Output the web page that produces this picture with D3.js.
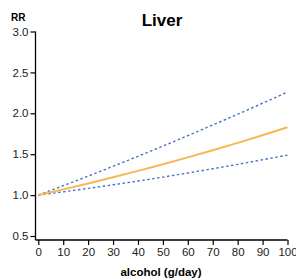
<!DOCTYPE html>
<html>
<head>
<meta charset="utf-8">
<script src="https://cdn.jsdelivr.net/npm/d3@7"></script>
<style>
  body { margin: 0; background: #fff; }
  svg { display: block; font-family: "Liberation Sans", Arial, sans-serif; }
</style>
</head>
<body>
<svg id="chart" width="296" height="280"></svg>
<script>
// alcohol dose (g/day) and relative risk estimates
const doses = [0, 10, 20, 30, 40, 50, 60, 70, 80, 90, 100];
const rrCentral = [1.0, 1.07, 1.143, 1.218, 1.296, 1.377, 1.461, 1.548, 1.638, 1.732, 1.83];
const rrUpper = [1.0, 1.115, 1.232, 1.352, 1.474, 1.599, 1.727, 1.857, 1.989, 2.123, 2.26];
const rrLower = [1.0, 1.04, 1.082, 1.126, 1.172, 1.22, 1.27, 1.322, 1.376, 1.432, 1.49];
const xTicks = [0, 10, 20, 30, 40, 50, 60, 70, 80, 90, 100];
const yTicks = [0.5, 1.0, 1.5, 2.0, 2.5, 3.0];

const svg = d3.select('#chart');

const x = d3.scaleLinear().domain([0, 100]).range([38.3, 287.5]);
const y = d3.scaleLinear().domain([0.5, 3.0]).range([236, 31.5]);

// axes (offset from each other, like the original)
const xAxis = svg.append('g')
    .attr('transform', 'translate(0,240)')
    .call(d3.axisBottom(x).tickValues(xTicks).tickSize(5).tickSizeOuter(0).tickPadding(3));
xAxis.select('.domain').attr('d', 'M35.5,0H' + x(100));

const yAxis = svg.append('g')
    .attr('transform', 'translate(35.5,0)')
    .call(d3.axisLeft(y).tickValues(yTicks).tickFormat(d3.format('.1f')).tickSize(5).tickSizeOuter(0).tickPadding(2));
yAxis.select('.domain').attr('d', 'M0,' + y(3.0) + 'V240');

svg.selectAll('.domain').attr('stroke', '#000').attr('stroke-width', 1.3);
svg.selectAll('.tick line').attr('stroke', '#000').attr('stroke-width', 1.2);
svg.selectAll('.tick text')
    .attr('fill', '#222')
    .style('font-size', '11.5px')
    .style('font-family', '"Liberation Sans", Arial, sans-serif');

const line = vals => d3.line()
    .x((d, i) => x(doses[i]))
    .y(d => y(d))
    .curve(d3.curveMonotoneX)(vals);

// confidence bounds
[rrUpper, rrLower].forEach(vals => {
    svg.append('path')
        .attr('d', line(vals))
        .attr('fill', 'none')
        .attr('stroke', '#4a72c8')
        .attr('stroke-width', 1.4)
        .attr('stroke-dasharray', '2.5,2.5');
});

// central estimate
svg.append('path')
    .attr('d', line(rrCentral))
    .attr('fill', 'none')
    .attr('stroke', '#f7b753')
    .attr('stroke-width', 2);

// labels
svg.append('text')
    .attr('x', 162).attr('y', 26)
    .attr('text-anchor', 'middle')
    .style('font-size', '17px').style('font-weight', 'bold')
    .text('Liver');

svg.append('text')
    .attr('x', 11).attr('y', 20.5)
    .style('font-size', '10px').style('font-weight', 'bold')
    .text('RR');

svg.append('text')
    .attr('x', 161).attr('y', 276)
    .attr('text-anchor', 'middle')
    .style('font-size', '11.5px').style('font-weight', 'bold')
    .text('alcohol (g/day)');
</script>
</body>
</html>
